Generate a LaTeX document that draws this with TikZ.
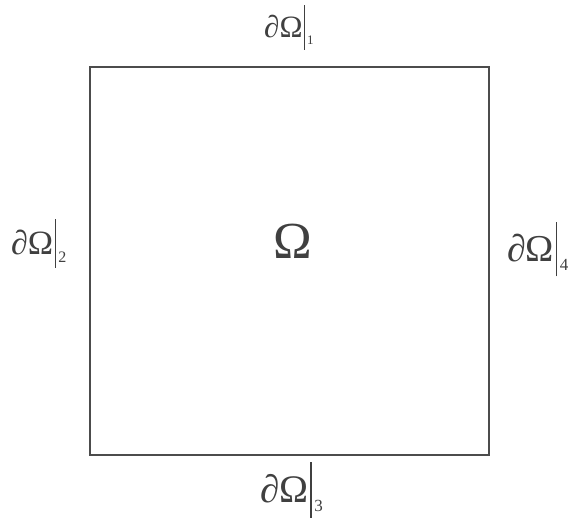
\documentclass[tikz,border=0pt]{standalone}
\usepackage{fontspec}
\setmainfont{Liberation Serif}
\newcommand\bdlabel[3]{\fontsize{#1}{#1}\selectfont ∂Ω\hspace{0.04em}\rule[-0.38em]{0.04em}{1.43em}\hspace{0.07em}\raisebox{-0.22em}{\fontsize{#2}{#2}\selectfont #3}}
\begin{document}
\begin{tikzpicture}[x=1pt,y=1pt,
  lbl/.style={inner sep=0pt, anchor=base west, text=black!75},
  edge/.style={draw=black!70, line width=1.2pt}]
\useasboundingbox (0,0) rectangle (574,527);
\coordinate (tl) at (90,460);
\coordinate (br) at (489,72);
\draw[edge] (tl) rectangle (br);
\node[lbl, font=\fontsize{52}{56}\selectfont] (om) at (273,268) {Ω};
\node[lbl] (b1) at (264,489) {\bdlabel{31}{13}{1}};
\node[lbl] (b2) at (11,272) {\bdlabel{34}{16}{2}};
\node[lbl] (b3) at (260,24) {\bdlabel{39}{17}{3}};
\node[lbl] (b4) at (507,265) {\bdlabel{38}{17}{4}};
\end{tikzpicture}
\end{document}
